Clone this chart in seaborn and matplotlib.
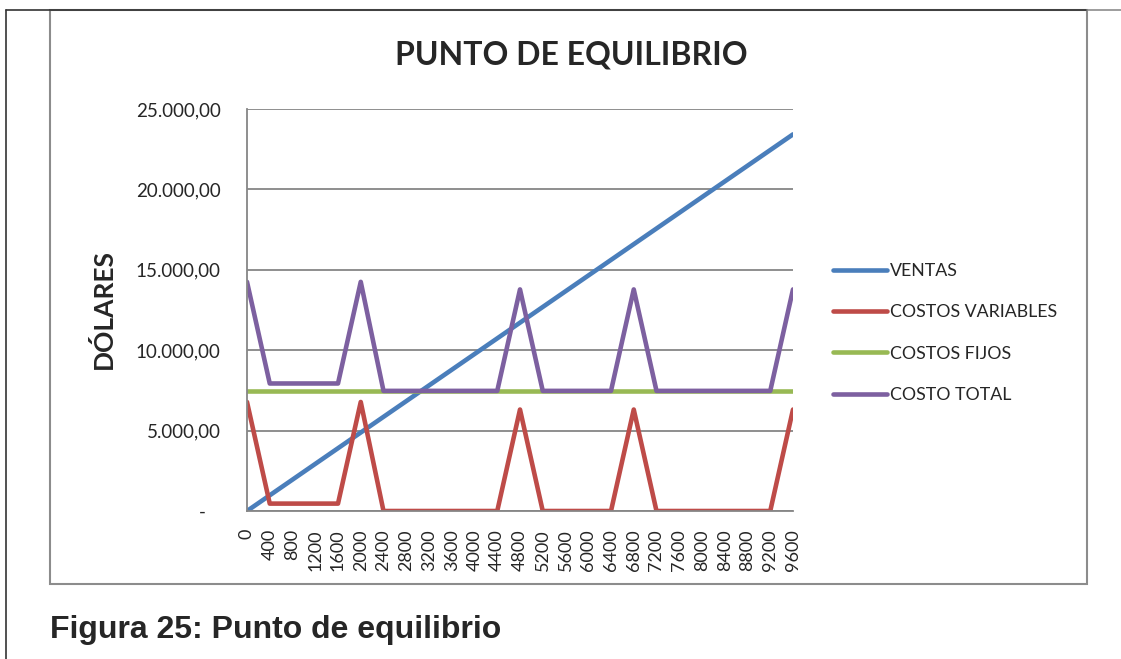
import pandas as pd
import matplotlib.pyplot as plt
import seaborn as sns
from matplotlib.ticker import FuncFormatter
from matplotlib.patches import Rectangle
from matplotlib.lines import Line2D

##### DATOS #####
unidades = [0, 400, 800, 1200, 1600, 2000, 2400, 2800, 3200, 3600, 4000, 4400, 4800,
            5200, 5600, 6000, 6400, 6800, 7200, 7600, 8000, 8400, 8800, 9200, 9600]
ventas = [0, 976, 1952, 2928, 3904, 4880, 5856, 6832, 7808, 8784, 9760, 10736, 11712,
          12688, 13664, 14640, 15616, 16592, 17568, 18544, 19520, 20496, 21472, 22448, 23424]
costos_variables = [6780, 460, 460, 460, 460, 6780, 0, 0, 0, 0, 0, 0, 6310,
                    0, 0, 0, 0, 6310, 0, 0, 0, 0, 0, 0, 6310]
costos_fijos = [7470] * 25
costo_total = [14250, 7930, 7930, 7930, 7930, 14250, 7470, 7470, 7470, 7470, 7470, 7470, 13780,
               7470, 7470, 7470, 7470, 13780, 7470, 7470, 7470, 7470, 7470, 7470, 13780]

series = ["VENTAS", "COSTOS VARIABLES", "COSTOS FIJOS", "COSTO TOTAL"]
colores = ["#4A7EBB", "#BE4B48", "#98B954", "#7D60A0"]

df = pd.DataFrame({"unidades": unidades, "VENTAS": ventas,
                   "COSTOS VARIABLES": costos_variables,
                   "COSTOS FIJOS": costos_fijos, "COSTO TOTAL": costo_total})
df_long = df.melt(id_vars="unidades", var_name="serie", value_name="dolares")

##### GRAFICO #####
sns.set_style("white")
plt.rcParams['font.family'] = ['Lato', 'DejaVu Sans']

W, H = 1121, 659
fig = plt.figure(figsize=(W / 100, H / 100), dpi=100)
ax = fig.add_axes([247 / W, 1 - 511 / H, (793 - 247) / W, (511 - 109) / H])

sns.lineplot(data=df_long, x="unidades", y="dolares", hue="serie", hue_order=series,
             palette=colores, linewidth=3.3, legend=False, ax=ax,
             solid_capstyle="round", solid_joinstyle="round")

ax.set_xlim(0, 9600)
ax.set_ylim(0, 25000)
ax.set_xticks(unidades)
ax.set_xticklabels([str(u) for u in unidades], rotation=90, fontsize=13)
ax.set_yticks([0, 5000, 10000, 15000, 20000, 25000])


def fmt(v, pos):
    if v == 0:
        return "-   "
    return f"{v:,.2f}".replace(",", "X").replace(".", ",").replace("X", ".")


ax.yaxis.set_major_formatter(FuncFormatter(fmt))
ax.tick_params(axis="y", labelsize=13.5, length=0, pad=19)
ax.tick_params(axis="x", length=0, pad=13)
ax.yaxis.grid(True, color="#868686", linewidth=1.3)
ax.set_axisbelow(True)
for s in ["top", "right"]:
    ax.spines[s].set_visible(False)
for s in ["left", "bottom"]:
    ax.spines[s].set_color("#868686")
    ax.spines[s].set_linewidth(1.3)

ax.set_xlabel("")
ax.set_ylabel("DÓLARES", fontsize=19, fontweight="bold")
ax.yaxis.set_label_coords(-0.241, 0.502)

fig.text(571 / W, 1 - 55 / H, "PUNTO DE EQUILIBRIO", ha="center", va="center",
         fontsize=23, fontweight="bold")

# leyenda
handles = [Line2D([0], [0], color=c, lw=3.3, solid_capstyle="round") for c in colores]
fig.legend(handles, series, loc="upper left", bbox_to_anchor=(826 / W, 1 - 256 / H),
           frameon=False, fontsize=12.8, handlelength=3.05, handletextpad=0.15,
           labelspacing=1.42, borderaxespad=0)

# marco del grafico y de la pagina
fig.patches.append(Rectangle((50 / W, 1 - 584 / H), (1087 - 50) / W, (584 - 10) / H,
                             transform=fig.transFigure, fill=False,
                             edgecolor="#8C8C8C", linewidth=1.5))
fig.lines.append(Line2D([6 / W, 6 / W], [0, 1 - 10 / H], transform=fig.transFigure,
                        color="#333333", linewidth=1.2))
fig.lines.append(Line2D([6 / W, 1087 / W], [1 - 10 / H, 1 - 10 / H], transform=fig.transFigure,
                        color="#333333", linewidth=1.2))
fig.lines.append(Line2D([1087 / W, 1], [1 - 10 / H, 1 - 10 / H], transform=fig.transFigure,
                        color="#8C8C8C", linewidth=1.2))

fig.text(50 / W, 1 - 630 / H, "Figura 25: Punto de equilibrio", ha="left", va="center",
         fontsize=23, fontweight="bold", family=['Liberation Sans'])

plt.savefig("out.png", dpi=100)
